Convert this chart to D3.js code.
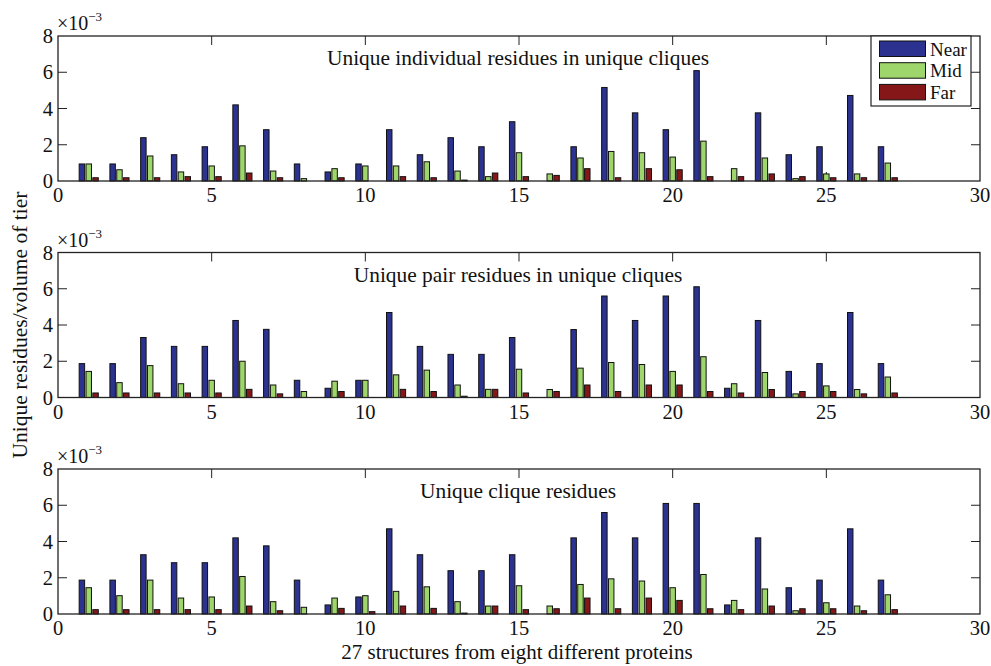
<!DOCTYPE html>
<html>
<head>
<meta charset="utf-8">
<script src="https://cdn.jsdelivr.net/npm/d3@7"></script>
<style>
  html, body { margin: 0; padding: 0; background: #fff; }
  svg { display: block; font-family: "Liberation Serif", "DejaVu Serif", serif; }
</style>
</head>
<body>
<svg id="chart" width="991" height="666"></svg>
<script>
// ---------- data ----------
const structures = d3.range(1, 28);
const seriesNames = ["Near", "Mid", "Far"];
const panelTitles = [
  "Unique individual residues in unique cliques",
  "Unique pair residues in unique cliques",
  "Unique clique residues"
];
const xTicks = [0, 5, 10, 15, 20, 25, 30];
const yTicks = [0, 2, 4, 6, 8];

// values in units of 1e-3
const near1 = [0.94,0.94,2.39,1.45,1.89,4.2,2.83,0.94,0.5,0.94,2.83,1.45,2.39,1.89,3.27,0,1.89,5.16,3.76,2.83,6.09,0,3.76,1.45,1.89,4.72,1.89];
const mid1  = [0.94,0.62,1.38,0.5,0.83,1.94,0.55,0.13,0.68,0.83,0.83,1.06,0.55,0.24,1.56,0.39,1.27,1.63,1.56,1.32,2.2,0.68,1.27,0.13,0.39,0.39,0.99];
const far1  = [0.18,0.18,0.18,0.24,0.24,0.44,0.18,0,0.18,0,0.24,0.18,0.05,0.44,0.24,0.31,0.68,0.18,0.68,0.62,0.24,0.24,0.39,0.24,0.18,0.18,0.18];

const near2 = [1.87,1.87,3.31,2.82,2.82,4.25,3.76,0.95,0.51,0.95,4.69,2.82,2.38,2.38,3.31,0,3.75,5.6,4.25,5.6,6.11,0.51,4.25,1.44,1.87,4.69,1.87];
const mid2  = [1.44,0.82,1.76,0.76,0.95,2.0,0.69,0.33,0.9,0.95,1.25,1.51,0.69,0.45,1.56,0.44,1.62,1.93,1.82,1.44,2.25,0.76,1.38,0.2,0.64,0.44,1.13];
const far2  = [0.25,0.25,0.25,0.25,0.25,0.45,0.2,0,0.33,0,0.45,0.33,0.07,0.45,0.25,0.33,0.69,0.33,0.69,0.69,0.33,0.25,0.44,0.33,0.33,0.2,0.25];

const near3 = [1.87,1.87,3.27,2.83,2.83,4.2,3.76,1.87,0.5,0.94,4.7,3.27,2.39,2.39,3.27,0,4.2,5.6,4.2,6.1,6.1,0.5,4.2,1.45,1.87,4.7,1.87];
const mid3  = [1.45,1.01,1.87,0.88,0.94,2.07,0.68,0.37,0.88,1.01,1.25,1.5,0.68,0.44,1.56,0.44,1.63,1.94,1.82,1.45,2.18,0.75,1.38,0.18,0.62,0.44,1.06];
const far3  = [0.24,0.24,0.24,0.24,0.24,0.44,0.18,0,0.31,0.13,0.44,0.31,0.05,0.44,0.24,0.29,0.88,0.29,0.88,0.75,0.29,0.24,0.44,0.29,0.29,0.18,0.24];

const panels = [
  { title: panelTitles[0], series: [near1, mid1, far1] },
  { title: panelTitles[1], series: [near2, mid2, far2] },
  { title: panelTitles[2], series: [near3, mid3, far3] }
];

// ---------- styling / layout ----------
const colors = ["#2b3290", "#9fd66b", "#861719"];
const left = 58, right = 980;
const panelTops = [36, 252.5, 469];
const panelH = 145;
const groupW = 3 / 4.5;               // MATLAB grouped bar width
const offsets = [-1, 0, 1].map(k => k * groupW / 3);
const barW = 0.8 * groupW / 3;

const svg = d3.select("#chart");
const x = d3.scaleLinear().domain([0, 30]).range([left, right]);

panels.forEach((p, pi) => {
  const top = panelTops[pi];
  const y = d3.scaleLinear().domain([0, 8]).range([top + panelH, top]);
  const g = svg.append("g");

  // ticks inward (left, right, top, bottom)
  const tl = 9;
  yTicks.filter(t => t > 0 && t < 8).forEach(t => {
    g.append("line").attr("x1", left).attr("x2", left + tl).attr("y1", y(t)).attr("y2", y(t)).attr("stroke", "#222");
    g.append("line").attr("x1", right).attr("x2", right - tl).attr("y1", y(t)).attr("y2", y(t)).attr("stroke", "#222");
  });
  xTicks.filter(t => t > 0 && t < 30).forEach(t => {
    g.append("line").attr("x1", x(t)).attr("x2", x(t)).attr("y1", top).attr("y2", top + tl).attr("stroke", "#222");
    g.append("line").attr("x1", x(t)).attr("x2", x(t)).attr("y1", top + panelH).attr("y2", top + panelH - tl).attr("stroke", "#222");
  });

  // bars
  p.series.forEach((vals, si) => {
    g.append("g").selectAll("rect")
      .data(structures.map((s, i) => ({ s, v: vals[i] })).filter(d => d.v > 0))
      .join("rect")
      .attr("x", d => x(d.s + offsets[si] - barW / 2))
      .attr("width", d => x(d.s + offsets[si] + barW / 2) - x(d.s + offsets[si] - barW / 2))
      .attr("y", d => y(d.v))
      .attr("height", d => y(0) - y(d.v))
      .attr("fill", colors[si])
      .attr("stroke", "#111")
      .attr("stroke-width", 1);
  });

  // frame
  g.append("rect").attr("x", left).attr("y", top).attr("width", right - left).attr("height", panelH)
    .attr("fill", "none").attr("stroke", "#222").attr("stroke-width", 1.3);

  // tick labels
  g.selectAll(".yl").data(yTicks).join("text")
    .attr("x", left - 5).attr("y", d => y(d) + 7)
    .attr("text-anchor", "end").attr("font-size", 20.5).attr("fill", "#111")
    .text(d => d);
  g.selectAll(".xl").data(xTicks).join("text")
    .attr("x", d => x(d)).attr("y", top + panelH + 21)
    .attr("text-anchor", "middle").attr("font-size", 20.5).attr("fill", "#111")
    .text(d => d);

  // exponent
  const ex = g.append("text").attr("x", left - 1).attr("y", top - 6).attr("font-size", 20).attr("fill", "#111");
  ex.append("tspan").text("×10");
  ex.append("tspan").attr("dy", -9).attr("font-size", 13).text("−3");

  // title
  g.append("text").attr("x", 518).attr("y", top + 29)
    .attr("text-anchor", "middle").attr("font-size", 21.4).attr("fill", "#111")
    .text(p.title);

  // legend in first panel
  if (pi === 0) {
    const lg = g.append("g");
    lg.append("rect").attr("x", 871).attr("y", top).attr("width", 100).attr("height", 70)
      .attr("fill", "#fff").attr("stroke", "#222").attr("stroke-width", 1.2);
    seriesNames.forEach((n, i) => {
      lg.append("rect").attr("x", 879.5).attr("y", top + 5 + i * 21.7).attr("width", 46).attr("height", 15.5)
        .attr("fill", colors[i]).attr("stroke", "#111");
      lg.append("text").attr("x", 930).attr("y", top + 19.5 + i * 21.7)
        .attr("font-size", 19).attr("fill", "#111").text(n);
    });
  }
});

// axis labels
svg.append("text").attr("x", 517).attr("y", 659).attr("text-anchor", "middle")
  .attr("font-size", 21).attr("fill", "#111").text("27 structures from eight different proteins");
svg.append("text").attr("transform", "translate(27,325) rotate(-90)").attr("text-anchor", "middle")
  .attr("font-size", 21.5).attr("fill", "#111").text("Unique residues/volume of tier");
</script>
</body>
</html>
